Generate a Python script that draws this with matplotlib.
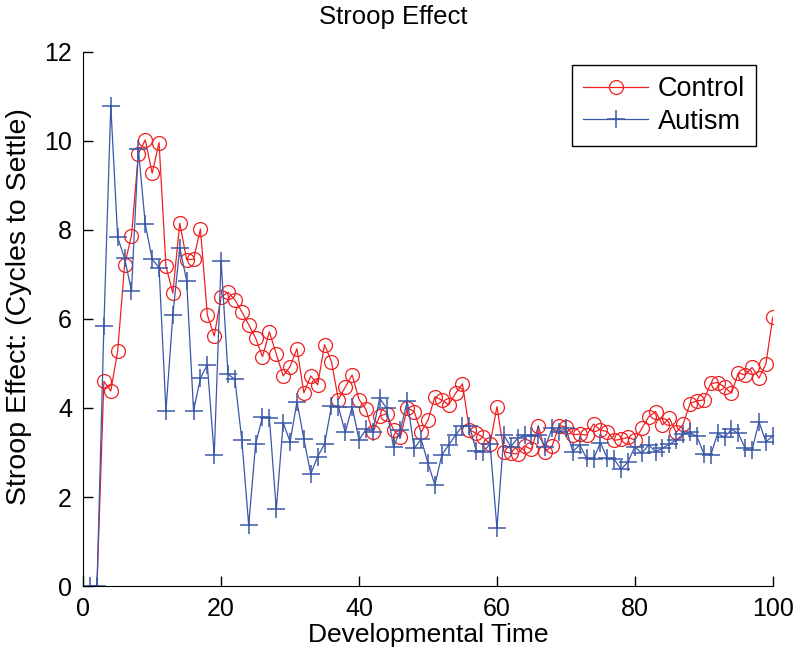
import numpy as np
import matplotlib
matplotlib.use("Agg")
import matplotlib.pyplot as plt

plt.rcParams['font.family'] = ['Liberation Sans', 'DejaVu Sans']

time = np.arange(1, 101)

control = [
    0, 0, 4.6, 4.38, 5.28, 7.21, 7.87, 9.71, 10.02, 9.27,
    9.96, 7.18, 6.58, 8.15, 7.33, 7.34, 8.02, 6.09, 5.62, 6.49,
    6.6, 6.43, 6.16, 5.87, 5.57, 5.15, 5.71, 5.21, 4.72, 4.93,
    5.33, 4.34, 4.72, 4.52, 5.42, 5.04, 4.19, 4.47, 4.74, 4.19,
    3.97, 3.45, 3.82, 3.87, 3.51, 3.34, 4.0, 3.92, 3.45, 3.73,
    4.25, 4.18, 4.07, 4.33, 4.54, 3.51, 3.43, 3.34, 3.19, 4.03,
    3.02, 2.98, 2.97, 3.15, 3.07, 3.6, 3.02, 3.15, 3.6, 3.58,
    3.4, 3.41, 3.39, 3.64, 3.5, 3.47, 3.27, 3.3, 3.34, 3.28,
    3.54, 3.8, 3.92, 3.62, 3.77, 3.45, 3.64, 4.1, 4.16, 4.18,
    4.55, 4.57, 4.47, 4.33, 4.79, 4.74, 4.91, 4.67, 4.99, 6.04,
]

autism = [
    0, 0, 5.84, 10.79, 7.83, 7.36, 6.63, 9.81, 8.13, 7.34,
    7.15, 3.94, 6.09, 7.6, 6.86, 3.94, 4.67, 4.97, 2.94, 7.31,
    4.76, 4.64, 3.28, 1.37, 3.19, 3.8, 3.77, 1.72, 3.67, 3.24,
    4.14, 3.3, 2.52, 2.91, 3.19, 4.04, 4.03, 3.45, 4.03, 3.28,
    3.52, 3.47, 4.22, 3.99, 3.12, 3.51, 4.16, 3.09, 3.3, 2.76,
    2.27, 2.94, 3.17, 3.39, 3.6, 3.6, 3.04, 3.02, 3.19, 1.3,
    3.39, 3.13, 3.32, 3.39, 3.36, 3.39, 3.13, 3.54, 3.47, 3.54,
    3.02, 3.17, 2.87, 2.85, 3.22, 2.87, 2.85, 2.62, 2.79, 3.13,
    2.98, 3.17, 3.02, 3.09, 3.19, 3.27, 3.42, 3.45, 3.36, 2.97,
    2.94, 3.43, 3.34, 3.52, 3.43, 3.09, 3.06, 3.69, 3.24, 3.37,
]

fig = plt.figure(figsize=(8, 6.63), dpi=100)
ax = fig.add_axes([0.104, 0.116, 0.862, 0.806])

ax.plot(time, control, color='#f02020', lw=0.9, marker='o', ms=10,
        mfc='none', mec='#f02020', mew=0.9, markevery=range(2, 100),
        label='Control')
ax.plot(time, autism, color='#3b58a8', lw=0.9, marker='+', ms=13,
        mew=1.1, label='Autism')

ax.set_xlim(0, 100)
ax.set_ylim(0, 12)
ax.set_xticks(range(0, 101, 20))
ax.set_yticks(range(0, 13, 2))
ax.tick_params(direction='in', labelsize=18, length=7, width=1, pad=8)
ax.spines['top'].set_visible(False)
ax.spines['right'].set_visible(False)

fig.text(0.492, 0.974, 'Stroop Effect', fontsize=18.5, ha='center', va='center')
ax.set_xlabel('Developmental Time', fontsize=19, labelpad=1)
ax.set_ylabel('Stroop Effect: (Cycles to Settle)', fontsize=20.5)
ax.yaxis.set_label_coords(-0.074, 0.524)

leg = ax.legend(loc='upper right', fontsize=19.5, fancybox=False,
                edgecolor='black', framealpha=1, handlelength=2.4,
                borderpad=0.4, labelspacing=0.25, handletextpad=0.35,
                bbox_to_anchor=(0.995, 1.0))
leg.get_frame().set_linewidth(1)

fig.savefig('out.png', dpi=100)
